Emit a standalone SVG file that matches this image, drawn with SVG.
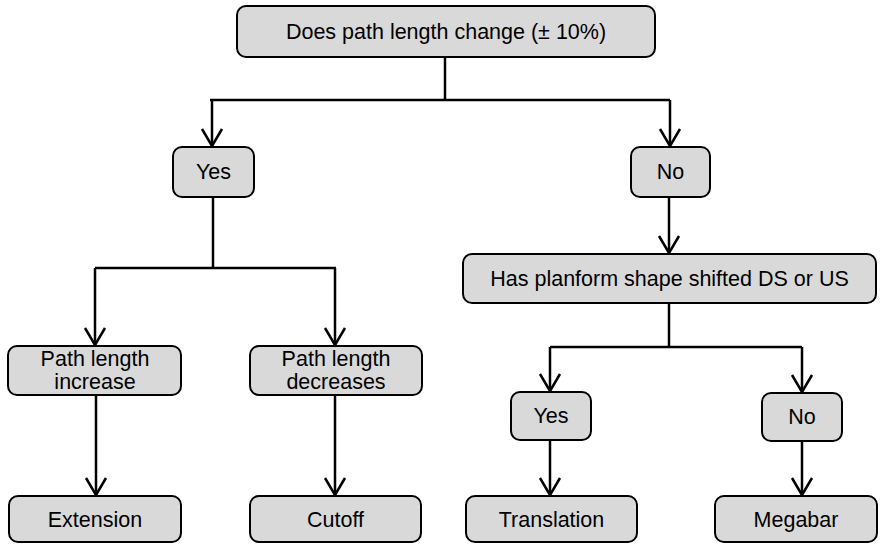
<svg xmlns="http://www.w3.org/2000/svg" width="880" height="544" viewBox="0 0 880 544">
<defs>
<style>
.box{fill:#d9d9d9;stroke:#000;stroke-width:2}
.t{font-family:"Liberation Sans",Arial,sans-serif;font-size:21.5px;fill:#000;text-anchor:middle;dominant-baseline:central}
.c{fill:none;stroke:#000;stroke-width:2.5}
</style>
<marker id="arr" markerUnits="userSpaceOnUse" markerWidth="20" markerHeight="22" refX="18" refY="11" orient="auto" viewBox="0 0 20 22" overflow="visible">
<path d="M1,1 L18,11 L1,21" fill="none" stroke="#000" stroke-width="2.5"/>
</marker>
</defs>
<g id="connectors">
<path class="c" d="M445,57 V100"/>
<path class="c" d="M210,100 H670"/>
<path class="c" d="M212,100 V146" marker-end="url(#arr)"/>
<path class="c" d="M670,100 V146" marker-end="url(#arr)"/>
<path class="c" d="M213,197 V268"/>
<path class="c" d="M95,268 H336"/>
<path class="c" d="M95,268 V345" marker-end="url(#arr)"/>
<path class="c" d="M335,268 V345" marker-end="url(#arr)"/>
<path class="c" d="M96,395 V495" marker-end="url(#arr)"/>
<path class="c" d="M335,395 V495" marker-end="url(#arr)"/>
<path class="c" d="M669,197 V253" marker-end="url(#arr)"/>
<path class="c" d="M669,303 V347"/>
<path class="c" d="M550,347 H802"/>
<path class="c" d="M550,347 V391" marker-end="url(#arr)"/>
<path class="c" d="M802,347 V392" marker-end="url(#arr)"/>
<path class="c" d="M550,440 V495" marker-end="url(#arr)"/>
<path class="c" d="M802,441 V495" marker-end="url(#arr)"/>
</g>
<g id="n-root"><rect class="box" x="237" y="6" width="418" height="51" rx="9"/><text class="t" x="446" y="32">Does path length change (± 10%)</text></g>
<g id="n-yes1"><rect class="box" x="173" y="147" width="81" height="50" rx="9"/><text class="t" x="213.5" y="172">Yes</text></g>
<g id="n-no1"><rect class="box" x="631" y="147" width="79" height="50" rx="9"/><text class="t" x="670.5" y="172">No</text></g>
<g id="n-inc"><rect class="box" x="8" y="346" width="173" height="49" rx="9"/><text class="t" x="95" y="359">Path length</text><text class="t" x="95" y="382">increase</text></g>
<g id="n-dec"><rect class="box" x="250" y="346" width="172" height="49" rx="9"/><text class="t" x="336" y="359">Path length</text><text class="t" x="336" y="382">decreases</text></g>
<g id="n-plan"><rect class="box" x="463" y="254" width="413" height="49" rx="9"/><text class="t" x="669.5" y="279">Has planform shape shifted DS or US</text></g>
<g id="n-yes2"><rect class="box" x="511" y="392" width="80" height="48" rx="9"/><text class="t" x="551" y="416">Yes</text></g>
<g id="n-no2"><rect class="box" x="762" y="393" width="80" height="48" rx="9"/><text class="t" x="802" y="417">No</text></g>
<g id="n-ext"><rect class="box" x="9" y="496" width="172" height="46" rx="9"/><text class="t" x="95" y="520">Extension</text></g>
<g id="n-cut"><rect class="box" x="250" y="496" width="171" height="46" rx="9"/><text class="t" x="335.5" y="520">Cutoff</text></g>
<g id="n-tra"><rect class="box" x="466" y="496" width="171" height="46" rx="9"/><text class="t" x="551.5" y="520">Translation</text></g>
<g id="n-meg"><rect class="box" x="715" y="496" width="162" height="46" rx="9"/><text class="t" x="796" y="520">Megabar</text></g>
</svg>
